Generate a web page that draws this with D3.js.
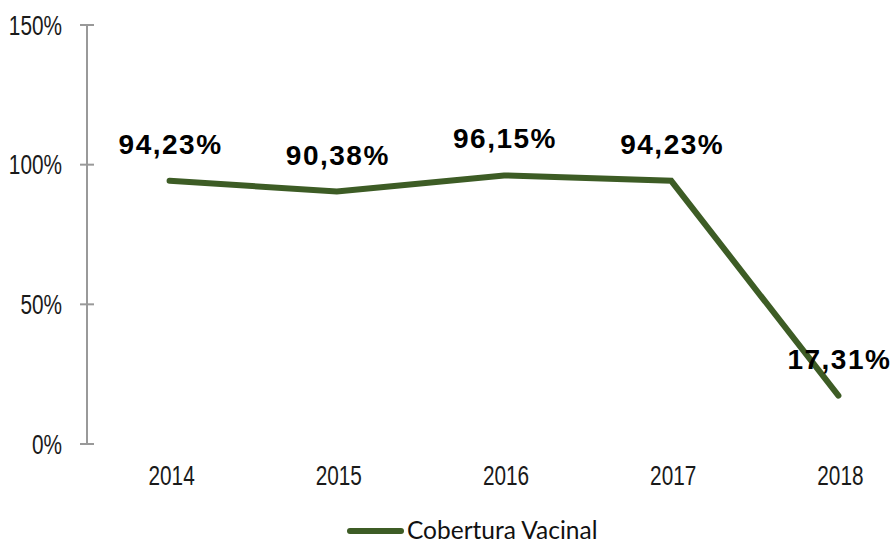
<!DOCTYPE html>
<html>
<head>
<meta charset="utf-8">
<script src="https://cdn.jsdelivr.net/npm/d3@7"></script>
<style>
  body { margin: 0; background: #fff; }
  .tick-label { font-family: "Liberation Sans", Arial, sans-serif; font-size: 27px; fill: #1a1a1a; }
  .value-label { font-family: "Liberation Sans", Arial, sans-serif; font-weight: bold; font-size: 28px; letter-spacing: 1.5px; fill: #000; }
  .legend-label { font-family: Lato, "Open Sans", sans-serif; font-size: 24.5px; fill: #111; }
</style>
</head>
<body>
<svg width="892" height="542"></svg>
<script>
// chart data
var years = ["2014", "2015", "2016", "2017", "2018"];
var coverage = [94.23, 90.38, 96.15, 94.23, 17.31];
var labels = ["94,23%", "90,38%", "96,15%", "94,23%", "17,31%"];
var yTicks = [0, 50, 100, 150];
var seriesName = "Cobertura Vacinal";

var svg = d3.select("svg");
var green = "#3d5c25";
var narrow = 0.77; // squeeze to look like a narrow font

var x = d3.scaleBand()
    .domain(years)
    .range([86, 922]);

var y = d3.scaleLinear()
    .domain([0, 150])
    .range([444, 25]);

var xc = function(d) { return x(d) + x.bandwidth() / 2; };

// vertical axis
var axis = svg.append("g");
axis.append("line")
    .attr("x1", 87).attr("x2", 87)
    .attr("y1", y(150)).attr("y2", y(0))
    .attr("stroke", "#999").attr("stroke-width", 2);

axis.selectAll("line.tick")
  .data(yTicks)
  .enter().append("line")
    .attr("class", "tick")
    .attr("x1", 80).attr("x2", 94)
    .attr("y1", function(d) { return y(d); })
    .attr("y2", function(d) { return y(d); })
    .attr("stroke", "#999").attr("stroke-width", 2);

axis.selectAll("text")
  .data(yTicks)
  .enter().append("text")
    .attr("class", "tick-label")
    .attr("transform", function(d) { return "translate(62," + y(d) + ") scale(" + narrow + ",1)"; })
    .attr("dy", "0.36em")
    .attr("text-anchor", "end")
    .text(function(d) { return d + "%"; });

// category labels
svg.append("g").selectAll("text")
  .data(years)
  .enter().append("text")
    .attr("class", "tick-label")
    .attr("transform", function(d) { return "translate(" + (xc(d) + 2) + ",485) scale(" + narrow + ",1)"; })
    .attr("text-anchor", "middle")
    .text(function(d) { return d; });

// line
var line = d3.line()
    .x(function(d, i) { return xc(years[i]); })
    .y(function(d) { return y(d); });

svg.append("path")
    .datum(coverage)
    .attr("d", line)
    .attr("fill", "none")
    .attr("stroke", green)
    .attr("stroke-width", 6)
    .attr("stroke-linejoin", "miter")
    .attr("stroke-linecap", "round");

// value labels
svg.append("g").selectAll("text")
  .data(coverage)
  .enter().append("text")
    .attr("class", "value-label")
    .attr("x", function(d, i) { return xc(years[i]) + 1; })
    .attr("y", function(d) { return y(d) - 27; })
    .attr("text-anchor", "middle")
    .text(function(d, i) { return labels[i]; });

// legend
var legend = svg.append("g");
legend.append("line")
    .attr("x1", 350).attr("x2", 401)
    .attr("y1", 531).attr("y2", 531)
    .attr("stroke", green)
    .attr("stroke-width", 6)
    .attr("stroke-linecap", "round");
legend.append("text")
    .attr("class", "legend-label")
    .attr("x", 407)
    .attr("y", 539)
    .text(seriesName);
</script>
</body>
</html>
